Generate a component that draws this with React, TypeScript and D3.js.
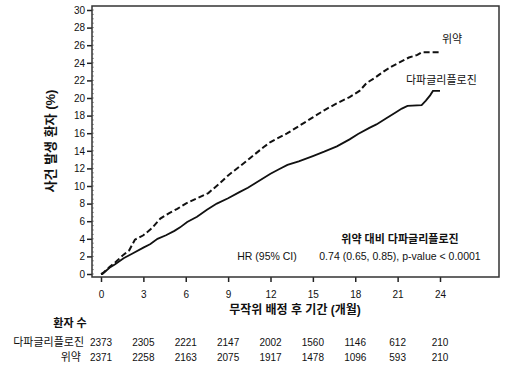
import React, { useRef, useEffect } from 'react';
import * as d3 from 'd3';

const months = [0, 3, 6, 9, 12, 15, 18, 21, 24];
const yTicks = [0, 2, 4, 6, 8, 10, 12, 14, 16, 18, 20, 22, 24, 26, 28, 30];

// [month, cumulative %]
const dapaCurve = [
  [0, 0], [0.1, 0], [0.6, 0.7], [1.0, 1.1], [1.6, 1.8], [2.2, 2.3], [3.0, 3.0],
  [3.5, 3.4], [4.0, 4.0], [4.6, 4.4], [5.2, 4.9], [5.6, 5.3], [6.1, 5.9],
  [6.8, 6.5], [7.5, 7.3], [8.2, 8.0], [9.0, 8.6], [9.8, 9.3], [10.4, 9.8],
  [11.0, 10.4], [12.0, 11.4], [12.6, 11.9], [13.2, 12.4], [14.0, 12.8],
  [15.0, 13.4], [15.8, 13.9], [16.7, 14.5], [17.6, 15.3], [18.2, 15.9],
  [19.0, 16.6], [19.5, 17.0], [20.2, 17.7], [20.8, 18.3], [21.3, 18.8],
  [21.7, 19.1], [22.7, 19.2], [23.0, 19.7], [23.3, 20.3], [23.5, 20.8], [24.0, 20.8],
];

const placeboCurve = [
  [0, 0], [0.2, 0.2], [0.6, 0.8], [1.0, 1.3], [1.6, 2.2], [2.0, 2.7], [2.4, 3.9],
  [3.0, 4.4], [3.6, 5.2], [4.2, 6.3], [4.8, 6.9], [5.4, 7.4], [6.0, 8.0],
  [6.8, 8.6], [7.6, 9.2], [8.4, 10.3], [9.0, 11.2], [9.8, 12.2], [10.5, 13.1],
  [11.5, 14.4], [12.0, 15.0], [13.2, 16.0], [14.0, 16.8], [15.0, 17.8],
  [15.8, 18.6], [16.7, 19.4], [17.6, 20.1], [18.3, 20.8], [18.8, 21.7],
  [19.4, 22.3], [20.0, 23.0], [20.6, 23.6], [21.2, 24.1], [21.8, 24.6],
  [22.4, 24.9], [22.7, 25.2], [24.0, 25.2],
];

const atRiskDapa = [2373, 2305, 2221, 2147, 2002, 1560, 1146, 612, 210];
const atRiskPlacebo = [2371, 2258, 2163, 2075, 1917, 1478, 1096, 593, 210];

const FONT = "'Liberation Sans', 'Noto Sans CJK KR', sans-serif";

export default function App() {
  const svgRef = useRef<SVGSVGElement>(null);
  const width = 505;
  const height = 367;

  useEffect(() => {
    const svg = d3.select(svgRef.current);
    svg.selectAll('*').remove();

    const frame = { left: 92, right: 499, top: 6, bottom: 277 };
    const x = d3.scaleLinear().domain([0, 24]).range([101, 440]);
    const y = d3.scaleLinear().domain([0, 30]).range([274, 10]);

    // y axis
    const yAxis = d3.axisLeft(y).tickValues(yTicks).tickSize(5).tickPadding(2).tickSizeOuter(0);
    const gy = svg.append('g').attr('transform', `translate(${frame.left},0)`).call(yAxis);
    gy.select('.domain').remove();
    gy.selectAll('line').attr('stroke', '#222').attr('stroke-width', 1.5);
    gy.selectAll('text').attr('font-size', 10).attr('font-family', FONT).attr('fill', '#111');

    // minor ticks inside
    svg.append('g')
      .selectAll('line')
      .data(d3.range(0, 30.01, 0.5))
      .join('line')
      .attr('x1', frame.left)
      .attr('x2', frame.left + 2)
      .attr('y1', (d) => y(d))
      .attr('y2', (d) => y(d))
      .attr('stroke', '#777')
      .attr('stroke-width', 0.7);

    // x axis
    const xAxis = d3.axisBottom(x).tickValues(months).tickSize(5).tickPadding(9).tickSizeOuter(0);
    const gx = svg.append('g').attr('transform', `translate(0,${frame.bottom})`).call(xAxis);
    gx.select('.domain').remove();
    gx.selectAll('line').attr('stroke', '#222').attr('stroke-width', 1.5);
    gx.selectAll('text').attr('font-size', 10).attr('font-family', FONT).attr('fill', '#111');

    // frame
    svg.append('path')
      .attr('d', `M${frame.left},${frame.top}H${frame.right}V${frame.bottom}H${frame.left}Z`)
      .attr('fill', 'none')
      .attr('stroke', '#333')
      .attr('stroke-width', 1.5);

    const line = d3.line<number[]>()
      .x((d) => x(d[0]))
      .y((d) => y(d[1]))
      .curve(d3.curveLinear);

    svg.append('path')
      .attr('d', line(placeboCurve))
      .attr('fill', 'none')
      .attr('stroke', '#111')
      .attr('stroke-width', 2)
      .attr('stroke-dasharray', '6,3');

    svg.append('path')
      .attr('d', line(dapaCurve))
      .attr('fill', 'none')
      .attr('stroke', '#111')
      .attr('stroke-width', 1.8);

    const text = (tx: number, ty: number, s: string, size: number, anchor = 'start', bold = false) =>
      svg.append('text')
        .attr('x', tx)
        .attr('y', ty)
        .attr('font-size', size)
        .attr('font-family', FONT)
        .attr('font-weight', bold ? 'bold' : 'normal')
        .attr('text-anchor', anchor)
        .attr('fill', '#111')
        .text(s);

    text(442, 43, '위약', 11);
    text(406, 84, '다파글리플로진', 11);
    text(400, 243, '위약 대비 다파글리플로진', 11, 'middle', true);
    text(400, 260, '0.74 (0.65, 0.85), p-value < 0.0001', 10.5, 'middle');
    text(267, 260, 'HR (95% CI)', 10.5, 'middle');

    // axis titles
    text(295, 314, '무작위 배정 후 기간 (개월)', 12, 'middle', true);
    svg.append('text')
      .attr('transform', 'translate(55,141) rotate(-90)')
      .attr('font-size', 13)
      .attr('font-family', FONT)
      .attr('font-weight', 'bold')
      .attr('text-anchor', 'middle')
      .attr('fill', '#111')
      .text('사건 발생 환자 (%)');

    // at-risk table
    text(70, 327, '환자 수', 11, 'middle', true);
    text(84, 346, '다파글리플로진', 11, 'end');
    text(81, 361, '위약', 11, 'end');
    svg.append('g')
      .selectAll('text')
      .data(atRiskDapa)
      .join('text')
      .attr('x', (d, i) => x(months[i]))
      .attr('y', 346)
      .attr('text-anchor', 'middle')
      .attr('font-size', 10)
      .attr('font-family', FONT)
      .attr('fill', '#111')
      .text((d) => d);
    svg.append('g')
      .selectAll('text')
      .data(atRiskPlacebo)
      .join('text')
      .attr('x', (d, i) => x(months[i]))
      .attr('y', 361)
      .attr('text-anchor', 'middle')
      .attr('font-size', 10)
      .attr('font-family', FONT)
      .attr('fill', '#111')
      .text((d) => d);
  }, []);

  return (
    <svg
      ref={svgRef}
      width={width}
      height={height}
      style={{ position: 'absolute', left: 0, top: 0, background: '#fff' }}
    />
  );
}
